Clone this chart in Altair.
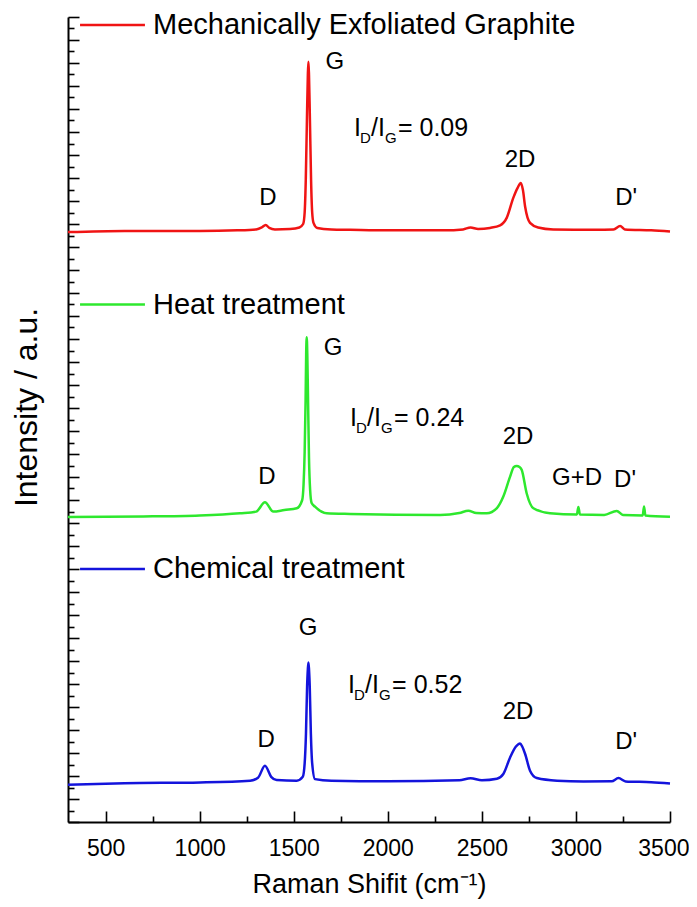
import altair as alt
import pandas as pd

# ---------------- data ----------------
series_names = ["Mechanically Exfoliated Graphite", "Heat treatment", "Chemical treatment"]
series_colors = ["#f01414", "#2ee82e", "#1414dc"]
series_offsets = [51.4, 26.7, 3.5]  # vertical stacking offsets (a.u.)

red_x = [300, 600, 1000, 1200, 1300, 1330, 1351, 1370, 1400, 1480, 1530, 1550, 1558, 1564, 1570, 1575, 1578,
         1581, 1586, 1592, 1598, 1605, 1625, 1700, 1800, 2000, 2300, 2400, 2440, 2480, 2543, 2597, 2632, 2667,
         2690, 2707, 2718, 2730, 2756, 2799, 2879, 3100, 3200, 3235, 3260, 3400, 3500]
red_i = [-0.1, 0.0, 0.0, 0.05, 0.13, 0.3, 0.52, 0.26, 0.13, 0.17, 0.3, 0.6, 1.6, 4.5, 9.65, 13.6, 14.7,
         13.6, 9.65, 4.5, 1.6, 0.7, 0.26, 0.13, 0.1, 0.05, 0.05, 0.13, 0.3, 0.17, 0.26, 0.48, 1.13, 2.87,
         3.74, 4.17, 3.57, 2.1, 0.7, 0.3, 0.13, 0.09, 0.13, 0.43, 0.13, 0.05, -0.05]

green_x = [300, 700, 1000, 1214, 1300, 1347, 1391, 1450, 1516, 1545, 1552, 1558, 1563, 1566, 1569, 1572,
           1576, 1581, 1587, 1595, 1613, 1675, 1800, 2278, 2380, 2428, 2470, 2526, 2580, 2614, 2650, 2670,
           2685, 2700, 2712, 2738, 2774, 2862, 3005, 3013, 3021, 3150, 3217, 3250, 3355, 3362, 3369, 3500]
green_i = [-0.17, -0.13, -0.04, 0.15, 0.29, 1.1, 0.29, 0.43, 0.58, 1.3, 2.6, 5.5, 10.0, 14.0, 15.45, 14.0,
           10.0, 5.0, 2.2, 1.04, 0.72, 0.15, 0.09, 0.0, 0.17, 0.37, 0.17, 0.15, 0.6, 1.6, 3.33, 4.17,
           4.26, 4.17, 3.91, 1.89, 0.58, 0.15, 0.04, 0.7, 0.04, 0.0, 0.35, 0.0, -0.04, 0.74, -0.04, -0.15]

blue_x = [300, 600, 1002, 1268, 1310, 1347, 1380, 1409, 1516, 1548, 1558, 1565, 1571, 1575, 1578, 1581,
          1585, 1591, 1598, 1613, 1700, 2000, 2380, 2440, 2500, 2580, 2614, 2650, 2680, 2703, 2715, 2730,
          2756, 2792, 2900, 3040, 3190, 3226, 3264, 3400, 3500]
blue_i = [-0.26, -0.13, -0.06, 0.09, 0.35, 1.39, 0.43, 0.15, 0.09, 0.43, 1.6, 4.2, 8.3, 9.8, 10.37, 9.8,
          8.3, 4.2, 1.6, 0.23, 0.09, 0.04, 0.13, 0.3, 0.13, 0.26, 0.67, 2.11, 3.04, 3.33, 3.04, 2.41,
          0.96, 0.32, 0.09, 0.03, 0.04, 0.32, 0.03, -0.04, -0.15]

# legend sample lines and texts (in data units)
legend_x1 = 364
legend_x2 = 709
legend_text_x = 752
legend_y = [69.3, 45.0, 22.0]

# peak labels
peak_text = ["G", "D", "2D", "D'",
             "G", "D", "2D", "G+D", "D'",
             "G", "D", "2D", "D'"]
peak_x = [1719, 1363, 2703, 3267,
          1709, 1358, 2692, 3006, 3261,
          1576, 1353, 2692, 3267]
peak_y = [66.1, 54.3, 57.6, 54.3,
          41.2, 30.0, 33.5, 29.9, 29.7,
          16.9, 7.1, 9.6, 7.0]

# I_D/I_G ratio annotations
ratio_values = ["= 0.09", "= 0.24", "= 0.52"]
ratio_x = [1820, 1799, 1789]
ratio_y = [60.35, 35.1, 11.9]

x_major = [500, 1000, 1500, 2000, 2500, 3000, 3500]
x_minor = [750, 1250, 1750, 2250, 2750, 3250]
y_major = list(range(0, 71, 2))
y_minor = list(range(1, 70, 2))

# ---------------- build tables ----------------
rows = []
for name, off, xs_, ys_ in zip(series_names, series_offsets,
                               [red_x, green_x, blue_x], [red_i, green_i, blue_i]):
    for xv, iv in zip(xs_, ys_):
        rows.append({"series": name, "x": xv, "y": iv + off})
spec_df = pd.DataFrame(rows)

leg_df = pd.DataFrame({"series": series_names, "x1": [legend_x1] * 3, "x2": [legend_x2] * 3,
                       "xt": [legend_text_x] * 3, "y": legend_y})
peak_df = pd.DataFrame({"t": peak_text, "x": peak_x, "y": peak_y})
ratio_df = pd.DataFrame({"v": ratio_values, "x": ratio_x, "y": ratio_y})

FONT = "Liberation Sans"
xs = alt.Scale(domain=[300, 3500], nice=False, zero=False)
ys = alt.Scale(domain=[0, 70], nice=False, zero=False)
cs = alt.Scale(domain=series_names, range=series_colors)

ax_x_major = alt.Axis(orient="bottom", values=x_major, format="d", tickSize=11, offset=-11,
                      domain=False, grid=False, labelFontSize=23, labelFont=FONT,
                      labelColor="black", labelPadding=15, labelFlush=1, labelFlushOffset=19,
                      labelBound=False, labelOverlap=False, tickColor="black", tickWidth=1.6,
                      title=None)
ax_x_minor = alt.Axis(orient="bottom", values=x_minor, tickSize=6, offset=-6, domain=False,
                      grid=False, labels=False, tickColor="black", tickWidth=1.6, title=None)
ax_x_dom = alt.Axis(orient="bottom", ticks=False, labels=False, domain=True, domainColor="black",
                    domainWidth=2, grid=False, title="Raman Shifit (cm⁻¹)", titleFont=FONT,
                    titleFontSize=27, titleFontWeight="normal", titleColor="black", titleY=62,
                    titleBaseline="middle")
ax_y_major = alt.Axis(orient="left", values=y_major, tickSize=11, offset=-11, domain=False,
                      grid=False, labels=False, tickColor="black", tickWidth=1.6, title=None)
ax_y_minor = alt.Axis(orient="left", values=y_minor, tickSize=6, offset=-6, domain=False,
                      grid=False, labels=False, tickColor="black", tickWidth=1.6, title=None)
ax_y_dom = alt.Axis(orient="left", ticks=False, labels=False, domain=True, domainColor="black",
                    domainWidth=2, grid=False, title="Intensity / a.u.", titleFont=FONT,
                    titleFontSize=32, titleFontWeight="normal", titleColor="black", titleX=-42,
                    titleY=390, titleAngle=270, titleAlign="center", titleBaseline="middle")

lines = alt.Chart(spec_df).mark_line(strokeWidth=2.5, interpolate="monotone").encode(
    x=alt.X("x:Q", scale=xs, axis=ax_x_major),
    y=alt.Y("y:Q", scale=ys, axis=ax_y_major),
    color=alt.Color("series:N", scale=cs, legend=None),
    detail="series:N",
)

leg_lines = alt.Chart(leg_df).mark_rule(strokeWidth=2.5).encode(
    x=alt.X("x1:Q", scale=xs, axis=ax_x_minor),
    x2="x2:Q",
    y=alt.Y("y:Q", scale=ys, axis=ax_y_minor),
    color=alt.Color("series:N", scale=cs, legend=None),
)

leg_text = alt.Chart(leg_df).mark_text(align="left", baseline="middle", fontSize=29,
                                       font=FONT, color="black").encode(
    x=alt.X("xt:Q", scale=xs, axis=ax_x_dom),
    y=alt.Y("y:Q", scale=ys, axis=ax_y_dom),
    text="series:N",
)

peaks = alt.Chart(peak_df).mark_text(align="center", baseline="middle", fontSize=24,
                                     font=FONT, color="black").encode(
    x=alt.X("x:Q", scale=xs, axis=None),
    y=alt.Y("y:Q", scale=ys, axis=None),
    text="t:N",
)


def ratio_part(txt, dx, size, dy):
    return alt.Chart(ratio_df).mark_text(align="left", baseline="middle", fontSize=size,
                                         font=FONT, color="black", dx=dx, dy=dy).encode(
        x=alt.X("x:Q", scale=xs, axis=None),
        y=alt.Y("y:Q", scale=ys, axis=None),
        text=alt.value(txt) if txt is not None else "v:N",
    )


ratio_layers = [
    ratio_part("I", 0, 25, 0),
    ratio_part("D", 6, 15, 10),
    ratio_part("/I", 17, 25, 0),
    ratio_part("G", 31, 15, 10),
    ratio_part(None, 44, 25, 0),
]

chart = alt.layer(lines, leg_lines, leg_text, peaks, *ratio_layers).resolve_axis(
    x="independent", y="independent"
).properties(
    width=602, height=805,
    autosize=alt.AutoSizeParams(type="none"),
    padding={"left": 60, "top": 9, "right": 19, "bottom": 77},
).configure_view(stroke=None)

chart.save("out.html", embed_options={"renderer": "svg", "actions": False})
